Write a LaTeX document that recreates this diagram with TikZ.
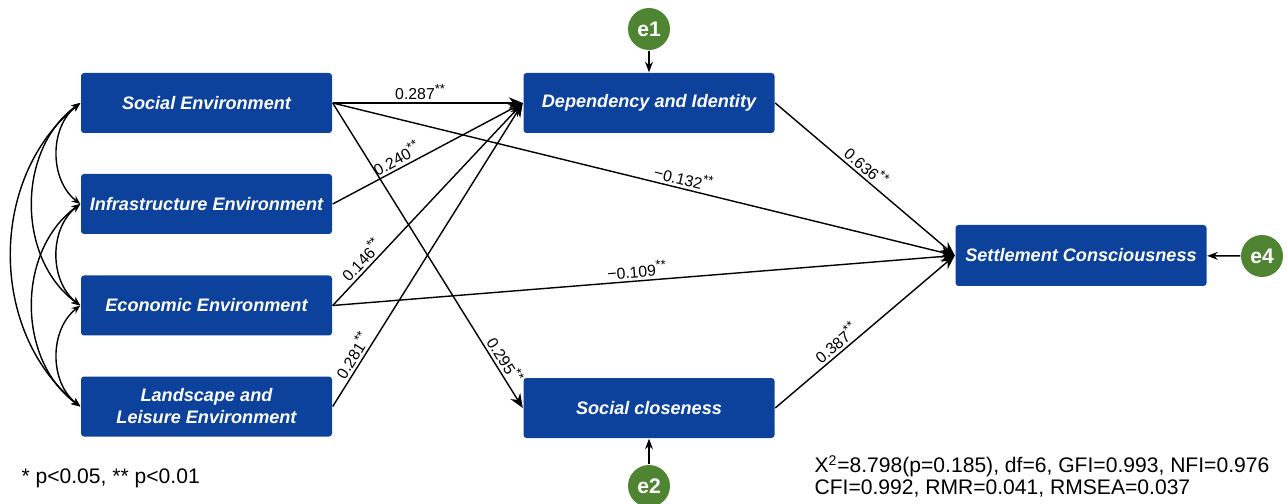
\documentclass[tikz,border=0pt]{standalone}
\usepackage{fontspec}
\setmainfont{Liberation Sans}
\usetikzlibrary{arrows.meta}
\definecolor{boxblue}{RGB}{12,66,156}
\definecolor{errgreen}{RGB}{78,132,50}
\newcommand{\sig}{\raisebox{0.38em}{\fontsize{7.5}{8}\selectfont**}}
\begin{document}
\begin{tikzpicture}[line width=0.8pt,
		var/.style = {fill=boxblue, rounded corners=0.06cm, minimum width=5.02cm, minimum height=1.2cm, inner sep=0pt, text=white, align=center, font=\fontsize{10.3}{12.5}\selectfont\bfseries\itshape},
		err/.style = {circle, fill=errgreen, minimum size=0.84cm, inner sep=0pt, text=white, font=\fontsize{12}{12}\selectfont\bfseries},
		coef/.style = {sloped, above, inner sep=1.5pt, font=\fontsize{9}{10}\selectfont},
		arr/.style = {-{Stealth[length=8pt,width=6.5pt]}},
		cov/.style = {{Stealth[length=5pt,width=4pt]}-{Stealth[length=5pt,width=4pt]}}]
			\useasboundingbox (0,0) rectangle (25.74,-10.08);
		
			\node[var] (soc) at (4.13,-2.06) {Social Environment};
			\node[var] (inf) at (4.13,-4.08) {Infrastructure Environment};
			\node[var] (eco) at (4.13,-6.11) {Economic Environment};
			\node[var] (lan) at (4.13,-8.13) {Landscape and\\Leisure Environment};
		
			\node[var] (dep) at (12.98,-2.06) {Dependency and Identity};
			\node[var] (clo) at (12.98,-8.16) {Social closeness};
			\node[var, minimum height=1.22cm] (set) at (21.62,-5.11) {Settlement Consciousness};
		
			\node[err] (e1) at (12.98,-0.58) {e1};
			\node[err] (e2) at (12.98,-9.72) {e2};
			\node[err] (e4) at (25.24,-5.12) {e4};
		
			\path[arr] 
				(soc.east) edge node[coef, pos=0.46] {0.287\sig} (dep.west)
				(soc.east) edge node[coef, pos=0.56] {−0.132\sig} (set.west)
				(soc.east) edge node[coef, pos=0.86] {0.295\sig} (clo.west)
				(inf.east) edge node[coef, pos=0.36] {0.240\sig} (dep.west)
				(eco.east) edge node[coef, pos=0.19] {0.146\sig} (dep.west)
				(eco.east) edge node[coef, pos=0.49] {−0.109\sig} (set.west)
				(lan.east) edge node[coef, pos=0.15] {0.281\sig} (dep.west);
				
			\path[arr] 
				(dep.east) edge node[coef, pos=0.47] {0.636\sig} (set.west)
				(clo.east) edge node[coef, pos=0.375] {0.387\sig} (set.west);
		
			\path[-{Stealth[length=6pt,width=4.5pt]}]
				(e1) edge (dep)
				(e2) edge (clo)
				(e4) edge (set);
		
			\path[cov]
				(soc.west) edge[bend right=52] (inf.west)
				(inf.west) edge[bend right=52] (eco.west)
				(eco.west) edge[bend right=52] (lan.west)
				(soc.west) edge[bend right=54] (eco.west)
				(inf.west) edge[bend right=54] (lan.west)
				(soc.west) edge[bend right=51] (lan.west);
		
			\node[anchor=west, font=\fontsize{12}{12}\selectfont] (note) at (0.30,-9.56) {* p<0.05, ** p<0.01};
			\node[anchor=west, align=left, font=\fontsize{12}{12.4}\selectfont] (fit) at (16.16,-9.53) {X\textsuperscript{2}=8.798(p=0.185), df=6, GFI=0.993, NFI=0.976\\CFI=0.992, RMR=0.041, RMSEA=0.037};
		\end{tikzpicture}
\end{document}
